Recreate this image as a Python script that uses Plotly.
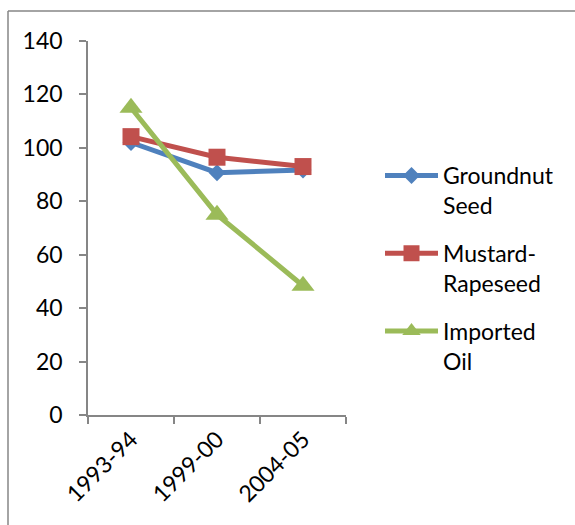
import plotly.graph_objects as go

# Index values by period
periods = ["1993-94", "1999-00", "2004-05"]
groundnut_seed = [102, 90.7, 91.7]
mustard_rapeseed = [104.2, 96.5, 93]
imported_oil = [115, 75, 48.4]

y_ticks = [0, 20, 40, 60, 80, 100, 120, 140]

W, H = 575, 525
L, R, T, B = 88, 229, 41, 110  # plot area margins in px

FONT = "Lato"
AXIS_GREY = "#868686"

fig = go.Figure()

series = [
    ("Groundnut<br>Seed", groundnut_seed, "#4F81BD", "diamond", 13),
    ("Mustard-<br>Rapeseed", mustard_rapeseed, "#C0504D", "square", 17),
    ("Imported<br>Oil", imported_oil, "#9BBB59", "triangle-up", 20),
]
for i, (name, vals, color, symbol, size) in enumerate(series):
    fig.add_trace(go.Scatter(
        x=periods, y=vals, name=name, mode="lines+markers",
        line=dict(color=color, width=5),
        marker=dict(symbol=symbol, size=size, color=color),
        legendgroup=f"g{i}",
    ))

# outer chart frame (top and left edges)
def px_to_paper_x(px):
    return (px - L) / (W - L - R)

def py_to_paper_y(py):
    return (H - B - py) / (H - T - B)

frame = dict(color=AXIS_GREY, width=1.5)
fig.add_shape(type="line", xref="paper", yref="paper",
              x0=px_to_paper_x(8), x1=px_to_paper_x(580),
              y0=py_to_paper_y(11), y1=py_to_paper_y(11), line=frame)
fig.add_shape(type="line", xref="paper", yref="paper",
              x0=px_to_paper_x(8), x1=px_to_paper_x(8),
              y0=py_to_paper_y(11), y1=py_to_paper_y(530), line=frame)

fig.update_layout(
    width=W, height=H,
    margin=dict(l=L, r=R, t=T, b=B),
    paper_bgcolor="white", plot_bgcolor="white",
    font=dict(family=FONT, size=23, color="black"),
    showlegend=True,
    legend=dict(
        x=px_to_paper_x(380), xanchor="left",
        y=py_to_paper_y(154), yanchor="top",
        valign="top", tracegroupgap=15,
        font=dict(family=FONT, size=23, color="black"),
        itemwidth=53,
    ),
    xaxis=dict(
        type="category", tickson="boundaries",
        range=[-0.5, 2.5],
        showline=True, linecolor=AXIS_GREY, linewidth=1.5,
        ticks="outside", ticklen=7, tickcolor=AXIS_GREY, tickwidth=1.5,
        tickangle=-45, showgrid=False, zeroline=False,
        tickfont=dict(family=FONT, size=23, color="black"),
    ),
    yaxis=dict(
        range=[0, 140], tickvals=y_ticks,
        showline=True, linecolor=AXIS_GREY, linewidth=1.5,
        ticks="outside", ticklen=7, tickcolor=AXIS_GREY, tickwidth=1.5,
        showgrid=False, zeroline=False,
        ticklabelstandoff=12,
        tickfont=dict(family=FONT, size=23, color="black"),
    ),
)

fig.write_html("out.html")
